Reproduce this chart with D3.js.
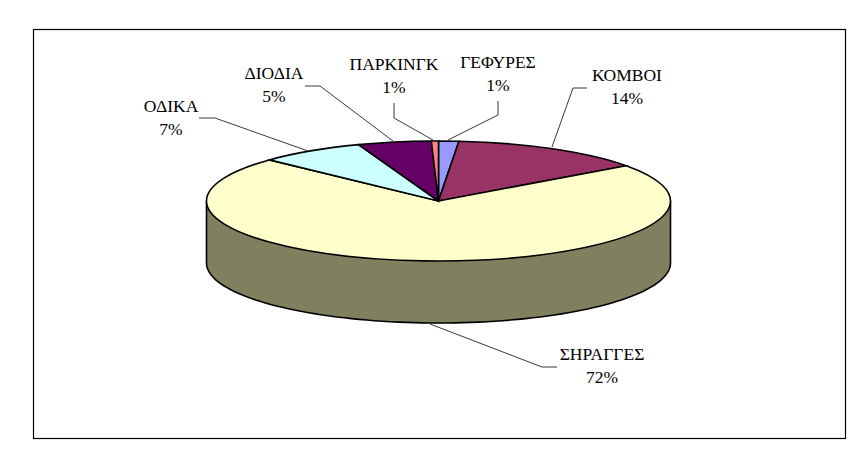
<!DOCTYPE html>
<html><head><meta charset="utf-8">
<script src="https://cdn.jsdelivr.net/npm/d3@7"></script>
<style>html,body{margin:0;padding:0;background:#fff}svg{display:block}text{font-family:"Liberation Serif",serif;font-size:17.5px;fill:#000;text-anchor:middle}</style>
</head><body><svg id="c" width="865" height="449"></svg>
<script>
const categories=["ΓΕΦΥΡΕΣ","ΚΟΜΒΟΙ","ΣΗΡΑΓΓΕΣ","ΟΔΙΚΑ","ΔΙΟΔΙΑ","ΠΑΡΚΙΝΓΚ"];
const sliceValues=[1.4,13.6,72,7.4,5.1,0.5];
const percentLabels=["1%","14%","72%","7%","5%","1%"];
const colors=["#9999ff","#993366","#ffffcc","#ccffff","#660066","#ff8080"];
const labelAnchors=[[498,68],[627,81],[602,360],[171,112],[274,79],[394,70]];
const leaders=[
 [[498,101],[498,115],[448,140]],
 [[587,88],[573,88],[552,147]],
 [[557,367],[542,367],[430,324]],
 [[199,118],[215,118],[308,151]],
 [[305,86],[320,86],[393,141]],
 [[394,103],[394,118],[433,140]]];
const cx=438.5,cy=201,rx=232,ry=60,depth=62;
const svg=d3.select("#c");
svg.append("rect").attr("x",33.5).attr("y",29.5).attr("width",812).attr("height",409).attr("fill","#fff").attr("stroke","#000").attr("stroke-width",1.2);
const sx=d3.scaleLinear().domain([-1,1]).range([cx-rx,cx+rx]);
const sy=d3.scaleLinear().domain([-1,1]).range([cy-ry,cy+ry]);
const frontAngles=d3.range(0,181,2).map(d=>(d-90)*Math.PI/180);
svg.append("path").datum(frontAngles)
 .attr("d",d3.area().x(a=>sx(Math.sin(a))).y0(a=>sy(Math.cos(a))).y1(a=>sy(Math.cos(a))+depth))
 .attr("fill","#80805f").attr("stroke","none");
const outline=d3.line().x(a=>sx(Math.sin(a))).y(a=>sy(Math.cos(a))+depth);
svg.append("path").datum(frontAngles).attr("d",outline).attr("fill","none").attr("stroke","#000").attr("stroke-width",1.6);
[-1,1].forEach(s=>svg.append("line").attr("x1",sx(s)).attr("x2",sx(s)).attr("y1",sy(0)).attr("y2",sy(0)+depth).attr("stroke","#000").attr("stroke-width",1.6));
const pie=d3.pie().sort(null)(sliceValues);
const arc=d3.arc().innerRadius(0).outerRadius(1);
svg.append("g").attr("transform",`translate(${cx},${cy}) scale(${rx},${ry})`)
 .selectAll("path").data(pie).join("path").attr("d",arc)
 .attr("fill",(d,i)=>colors[i]).attr("stroke","#000").attr("stroke-width",1.6)
 .attr("vector-effect","non-scaling-stroke");
const lead=d3.line();
svg.append("g").selectAll("path").data(leaders).join("path").attr("d",lead)
 .attr("fill","none").attr("stroke","#222").attr("stroke-width",0.9);
const lab=svg.append("g").selectAll("g").data(categories).join("g")
 .attr("transform",(d,i)=>`translate(${labelAnchors[i]})`);
lab.append("text").text(d=>d);
lab.append("text").attr("y",23).text((d,i)=>percentLabels[i]);
</script></body></html>
